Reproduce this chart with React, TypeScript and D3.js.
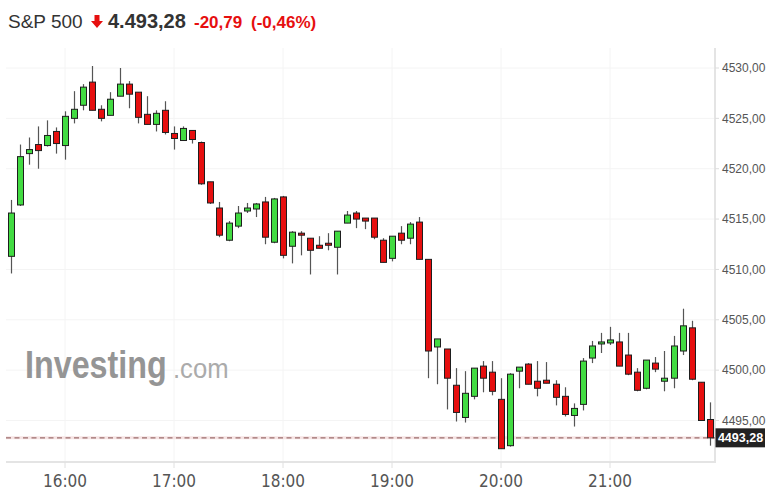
import React from "react";
import * as d3 from "d3";

const times = [
  "15:30","15:35","15:40","15:45","15:50","15:55",
  "16:00","16:05","16:10","16:15","16:20","16:25","16:30","16:35","16:40","16:45","16:50","16:55",
  "17:00","17:05","17:10","17:15","17:20","17:25","17:30","17:35","17:40","17:45","17:50","17:55",
  "18:00","18:05","18:10","18:15","18:20","18:25","18:30","18:35","18:40","18:45","18:50","18:55",
  "19:00","19:05","19:10","19:15","19:20","19:25","19:30","19:35","19:40","19:45","19:50","19:55",
  "20:00","20:05","20:10","20:15","20:20","20:25","20:30","20:35","20:40","20:45","20:50","20:55",
  "21:00","21:05","21:10","21:15","21:20","21:25","21:30","21:35","21:40","21:45","21:50","21:55",
];

const openV = [
  4511.3,4516.4,4521.5,4522.4,4522.3,4523.7,
  4522.3,4525.0,4526.3,4528.6,4525.9,4525.3,4527.2,4528.4,4527.6,4525.4,4524.4,4525.8,
  4523.5,4522.8,4523.8,4522.6,4518.7,4516.1,4512.9,4514.3,4515.8,4516.0,4516.7,4512.7,
  4517.2,4512.3,4513.6,4513.1,4512.4,4512.6,4512.2,4514.6,4515.6,4515.1,4515.1,4512.9,
  4511.1,4513.6,4513.1,4514.7,4511.0,4502.3,4502.1,4498.5,4495.3,4497.4,4500.4,4499.8,
  4497.1,4492.5,4499.9,4500.6,4498.9,4499.0,4498.6,4497.4,4495.5,4496.6,4501.2,4502.6,
  4502.7,4502.8,4501.5,4499.8,4498.2,4500.7,4498.9,4499.2,4501.9,4504.2,4498.8,4495.1,
];
const highV = [
  4516.9,4522.4,4523.1,4524.2,4524.8,4524.1,
  4525.7,4527.7,4528.4,4530.2,4526.3,4527.6,4530.0,4528.7,4527.6,4527.2,4525.8,4526.7,
  4524.2,4524.2,4523.8,4522.7,4518.7,4516.7,4514.8,4516.3,4516.6,4516.6,4517.2,4517.1,
  4517.3,4513.8,4513.8,4513.1,4513.3,4513.6,4513.8,4515.8,4515.8,4515.1,4515.1,4513.1,
  4513.3,4514.3,4514.7,4515.2,4511.0,4503.1,4502.1,4500.2,4499.9,4500.2,4500.9,4500.9,
  4499.2,4499.7,4500.3,4500.7,4500.9,4500.8,4499.0,4498.3,4496.7,4501.2,4502.9,4503.7,
  4504.3,4503.7,4503.7,4500.2,4501.0,4501.3,4501.9,4503.4,4506.1,4504.9,4498.8,4496.8,
];
const lowV = [
  4509.6,4516.3,4520.4,4520.0,4522.2,4521.5,
  4520.9,4524.5,4525.8,4525.8,4524.7,4525.3,4527.2,4526.0,4524.5,4524.4,4523.7,4523.4,
  4521.9,4522.8,4522.5,4518.4,4516.5,4513.2,4512.8,4514.1,4515.6,4515.2,4512.5,4512.6,
  4511.1,4510.6,4511.4,4509.5,4512.1,4511.9,4509.5,4514.6,4514.1,4514.0,4513.0,4510.7,
  4510.8,4512.5,4512.5,4511.0,4499.2,4498.6,4496.1,4494.9,4494.8,4497.1,4497.8,4497.5,
  4492.2,4492.4,4498.2,4498.6,4497.4,4498.7,4496.5,4495.4,4494.4,4496.0,4500.7,4501.7,
  4502.5,4500.4,4499.5,4497.9,4498.1,4499.8,4497.9,4498.2,4501.5,4499.0,4495.0,4492.5,
];
const closeV = [
  4515.6,4521.2,4521.9,4521.8,4523.3,4522.5,
  4525.2,4525.9,4528.1,4525.8,4525.0,4526.9,4528.4,4527.4,4525.1,4524.4,4525.5,4523.6,
  4523.0,4524.0,4522.9,4518.5,4516.6,4513.4,4514.6,4515.6,4516.1,4516.5,4513.2,4517.0,
  4511.4,4513.7,4513.4,4511.9,4512.1,4512.4,4513.8,4515.4,4515.0,4514.8,4513.2,4510.7,
  4513.3,4512.9,4514.5,4511.0,4501.9,4503.1,4499.2,4495.8,4497.7,4500.2,4499.2,4497.9,
  4492.2,4499.6,4500.3,4498.6,4498.2,4498.7,4497.3,4495.6,4496.2,4500.9,4502.4,4502.8,
  4503.0,4500.4,4499.6,4498.0,4501.0,4500.1,4499.2,4502.4,4504.4,4499.1,4495.0,4493.28,
];

const hourTicks = ["16:00", "17:00", "18:00", "19:00", "20:00", "21:00"];
const priceTicks = [4495, 4500, 4505, 4510, 4515, 4520, 4525, 4530];
const lastPrice = 4493.28;

const toMin = (t: string) => {
  const [h, m] = t.split(":").map(Number);
  return h * 60 + m;
};
const fmtPrice = (v: number) => v.toFixed(2).replace(".", ",");

const W = 783;
const H = 503;
const PLOT_L = 6;
const PLOT_R = 715;
const PLOT_T = 48;
const PLOT_B = 462;

const GREEN = "#42db42";
const RED = "#e60f0f";
const FONT = "Arial, 'Liberation Sans', sans-serif";

export default function App() {
  const x = d3.scaleLinear().domain([toMin("15:30"), toMin("21:00")]).range([10.5, 610]);
  const y = d3.scaleLinear().domain([4495, 4530]).range([420.5, 68]);
  const bw = 6;

  const candles = times.map((t, i) => ({
    t, o: openV[i], h: highV[i], l: lowV[i], c: closeV[i],
  }));

  return (
    <svg width={W} height={H} style={{ position: "absolute", left: 0, top: 0, background: "#fff" }}>
      {/* header */}
      <text x={8} y={28} fontFamily={FONT} fontSize={19} fill="#333">S&amp;P 500</text>
      <path d="M94.5,15 h5 v6 h3.5 l-6,7 l-6,-7 h3.5 z" fill={RED} />
      <text x={108} y={28} fontFamily={FONT} fontSize={20} fontWeight="bold" fill="#333">4.493,28</text>
      <text x={194} y={28} fontFamily={FONT} fontSize={17} fontWeight="bold" fill={RED}>-20,79</text>
      <text x={251} y={28} fontFamily={FONT} fontSize={17} fontWeight="bold" fill={RED}>(-0,46%)</text>

      {/* faint grid */}
      {priceTicks.map((p) => (
        <line key={"gh" + p} x1={PLOT_L} x2={PLOT_R} y1={y(p)} y2={y(p)} stroke="#f4f4f4" strokeWidth={1} />
      ))}
      {hourTicks.map((t) => (
        <line key={"gv" + t} x1={x(toMin(t))} x2={x(toMin(t))} y1={PLOT_T} y2={PLOT_B} stroke="#f4f4f4" strokeWidth={1} />
      ))}

      {/* watermark */}
      <g transform="translate(25,378) scale(0.85,1)">
        <text x={0} y={0} fontFamily={FONT} fontSize={38} fontWeight="bold" fill="#959595">Investing</text>
      </g>
      <g transform="translate(173,378) scale(0.95,1)">
        <text x={0} y={0} fontFamily={FONT} fontSize={27} fill="#ababab">.com</text>
      </g>

      {/* frame */}
      <line x1={PLOT_L} x2={PLOT_R + 1} y1={PLOT_B} y2={PLOT_B} stroke="#e4e4e4" strokeWidth={2} />
      <line x1={PLOT_R} x2={PLOT_R} y1={PLOT_T} y2={PLOT_B} stroke="#e4e4e4" strokeWidth={2} />

      {/* last price line */}
      <line x1={PLOT_L} x2={PLOT_R} y1={y(lastPrice)} y2={y(lastPrice)} stroke="#f6e4e4" strokeWidth={3} />
      <line x1={PLOT_L} x2={PLOT_R} y1={y(lastPrice)} y2={y(lastPrice)} stroke="#9c6c6c" strokeWidth={1.3} strokeDasharray="5,3.5" />

      {/* candles */}
      {candles.map((d) => {
        const cx = Math.round(x(toMin(d.t))) + 0.5;
        const up = d.c >= d.o;
        const top = y(Math.max(d.o, d.c));
        const bot = y(Math.min(d.o, d.c));
        return (
          <g key={d.t}>
            <line x1={cx} x2={cx} y1={y(d.h)} y2={y(d.l)} stroke="#555" strokeWidth={1.2} />
            <rect x={cx - bw / 2} y={top} width={bw} height={Math.max(1.5, bot - top)}
              fill={up ? GREEN : RED} stroke="#1e1e1e" strokeWidth={1} />
          </g>
        );
      })}

      {/* y axis */}
      {priceTicks.map((p) => (
        <g key={"yt" + p}>
          <line x1={PLOT_R} x2={PLOT_R + 4} y1={y(p)} y2={y(p)} stroke="#ddd" />
          <text x={722} y={y(p)} dy="0.35em" fontFamily={FONT} fontSize={12} fill="#555">{fmtPrice(p)}</text>
        </g>
      ))}

      {/* last price label */}
      <rect x={715.5} y={y(lastPrice) - 9.5} width={49.5} height={19} fill="#222" />
      <text x={740.5} y={y(lastPrice)} dy="0.36em" textAnchor="middle" fontFamily={FONT} fontSize={12.5}
        fontWeight="bold" fill="#fff">{fmtPrice(lastPrice)}</text>

      {/* x axis */}
      {hourTicks.map((t) => (
        <g key={"xt" + t}>
          <line x1={x(toMin(t))} x2={x(toMin(t))} y1={PLOT_B} y2={PLOT_B + 6} stroke="#e0e0e0" />
          <text x={x(toMin(t))} y={487} textAnchor="middle"
            fontFamily="'Liberation Sans Narrow', 'DejaVu Sans Condensed', 'Roboto Condensed', sans-serif"
            fontSize={17} fill="#555">{t}</text>
        </g>
      ))}
    </svg>
  );
}
